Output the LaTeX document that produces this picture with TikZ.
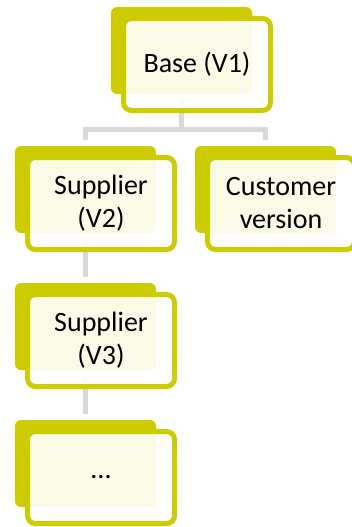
\documentclass[tikz,border=0pt]{standalone}
\usepackage{fontspec}
\setmainfont{Carlito}
\usetikzlibrary{backgrounds}
\definecolor{leaf}{RGB}{204,204,0}
\definecolor{linegray}{RGB}{217,217,217}
\tikzset{
  backbox/.style={fill=leaf, rounded corners=6pt, minimum width=141pt, minimum height=87pt, inner sep=0pt, outer sep=0pt},
  frontbox/.style={draw=leaf, line width=5pt, fill=white, fill opacity=0.9, text opacity=1, rounded corners=8pt, minimum width=147pt, minimum height=92pt, inner sep=0pt, align=center, font=\fontsize{28}{33}\selectfont},
  link/.style={draw=linegray, line width=5pt}
}
\begin{document}
\begin{tikzpicture}[x=1pt,y=-1pt]
\useasboundingbox (0,0) rectangle (352,527);
\node[backbox] (b1) at (181.5,50.5) {};
\node[frontbox] (f1) at (197,64.5) {Base (V1)};
\node[backbox] (b2) at (85.5,189.5) {};
\node[frontbox] (f2) at (101,203.5) {Supplier\\(V2)};
\node[backbox] (b3) at (265.5,189.5) {};
\node[frontbox] (f3) at (281,203.5) {Customer\\version};
\node[backbox] (b4) at (85.5,326.5) {};
\node[frontbox] (f4) at (101,340.5) {Supplier\\(V3)};
\node[backbox] (b5) at (85.5,463.5) {};
\node[frontbox] (f5) at (101,477.5) {...};
\begin{scope}[on background layer]
  \coordinate (bar) at (0,129);
  \draw[link] ([yshift=-7pt]b1.south) -- (b1 |- bar);
  \draw[link] ([yshift=6pt]b2.north) -- (b2 |- bar) -- (b3 |- bar) -- ([yshift=6pt]b3.north);
  \draw[link] ([yshift=-8pt]b2.south) -- ([yshift=6pt]b4.north);
  \draw[link] ([yshift=-7pt]b4.south) -- ([yshift=6pt]b5.north);
\end{scope}
\end{tikzpicture}
\end{document}
